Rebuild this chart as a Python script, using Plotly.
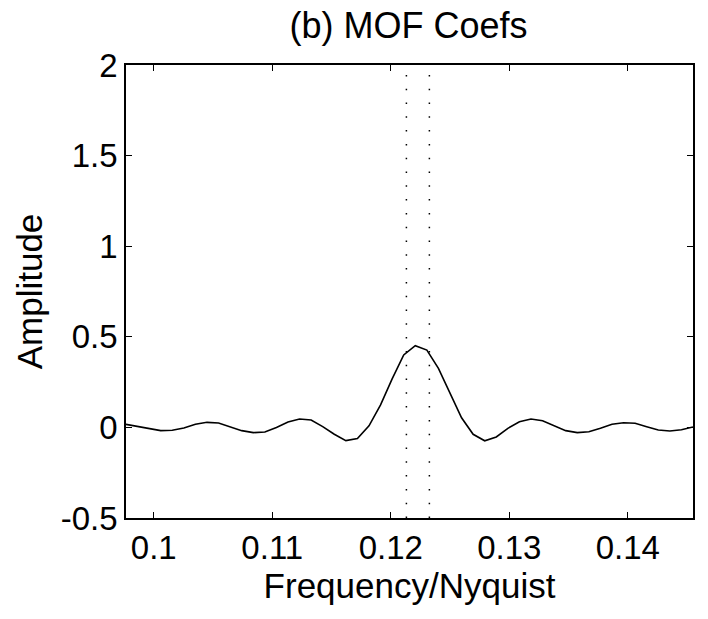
import plotly.graph_objects as go

# frequency bins (bin index / 1024 = Frequency/Nyquist)
bins = list(range(100, 150))
freq = [b / 1024 for b in bins]
amplitude = [0.017, 0.004, -0.009, -0.018, -0.016, -0.003, 0.017, 0.028, 0.024, 0.004,
             -0.018, -0.029, -0.025, 0.000, 0.030, 0.046, 0.041, 0.004, -0.038, -0.073,
             -0.062, 0.009, 0.124, 0.268, 0.400, 0.451, 0.427, 0.326, 0.185, 0.053,
             -0.038, -0.074, -0.053, -0.005, 0.031, 0.046, 0.037, 0.010, -0.018, -0.029,
             -0.024, -0.005, 0.017, 0.026, 0.023, 0.004, -0.014, -0.020, -0.013, 0.002]
band_edges = [0.12132, 0.12326]
x_ticks = [0.10, 0.11, 0.12, 0.13, 0.14]
x_ticklabels = ["0.1", "0.11", "0.12", "0.13", "0.14"]
y_ticks = [-0.5, 0, 0.5, 1, 1.5, 2]
y_ticklabels = ["-0.5", "0", "0.5", "1", "1.5", "2"]
y_range = [-0.5, 2]

FONT = "Liberation Sans, Arial, Helvetica, sans-serif"

fig = go.Figure()
for e in band_edges:
    fig.add_trace(go.Scatter(x=[e, e], y=y_range, mode="lines",
                             line=dict(color="black", width=1.5, dash="1.5px,12.3px"),
                             showlegend=False, hoverinfo="skip"))
fig.add_trace(go.Scatter(x=freq, y=amplitude, mode="lines",
                         line=dict(color="black", width=1.6), showlegend=False))

axis_common = dict(showgrid=False, zeroline=False, showline=True, linecolor="black",
                   linewidth=1.5, mirror="ticks", ticks="inside", ticklen=6,
                   tickcolor="black", tickwidth=1.2,
                   tickfont=dict(family=FONT, size=33, color="black"))
fig.update_xaxes(range=[100 / 1024, 149 / 1024], tickvals=x_ticks, ticktext=x_ticklabels,
                 title=dict(text="Frequency/Nyquist", font=dict(family=FONT, size=35, color="black"),
                            standoff=0),
                 **axis_common)
fig.update_yaxes(range=y_range, tickvals=y_ticks, ticktext=y_ticklabels,
                 title=dict(text="Amplitude", font=dict(family=FONT, size=35, color="black"),
                            standoff=8),
                 **axis_common)
fig.update_layout(
    width=708, height=619,
    margin=dict(l=126, r=15, t=65, b=101),
    paper_bgcolor="white", plot_bgcolor="white",
    title=dict(text="(b) MOF Coefs", x=0.577, xanchor="center", y=1 - 25 / 619,
               yanchor="middle", yref="container",
               font=dict(family=FONT, size=36, color="black")),
)
fig.write_html("out.html")
